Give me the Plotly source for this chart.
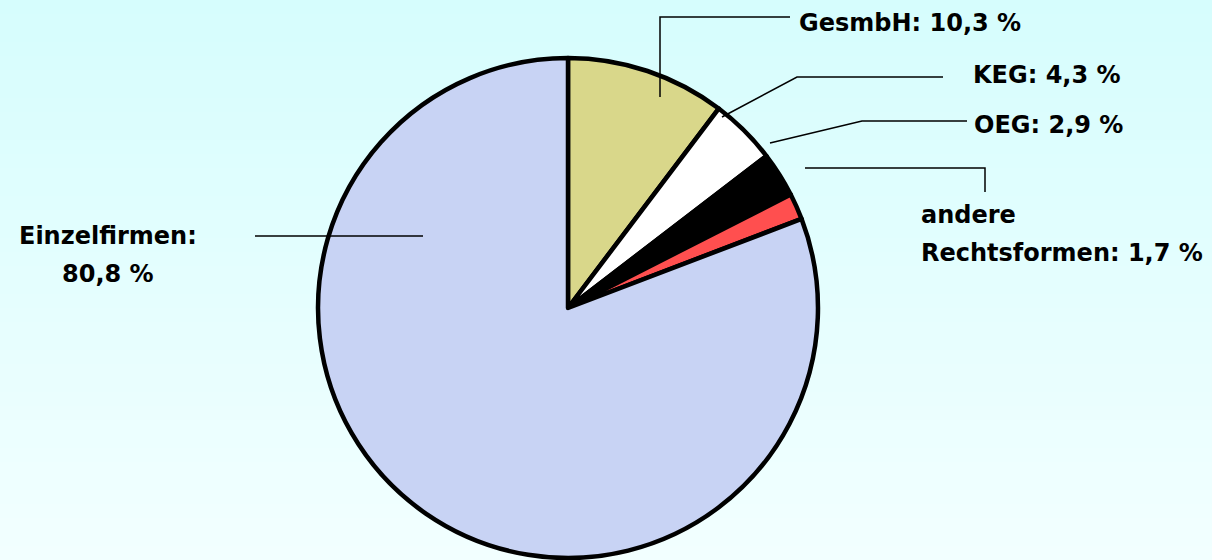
import plotly.graph_objects as go

W, H = 1212, 560

categories = ["GesmbH", "KEG", "OEG", "andere Rechtsformen", "Einzelfirmen"]
shares = [10.3, 4.3, 2.9, 1.7, 80.8]
slice_colors = ["#d9d78a", "#ffffff", "#000000", "#ff4f4f", "#c8d3f4"]


def fmt(v):
    return f"{v:.1f}".replace(".", ",") + " %"


def px(x, y):
    return x / W, 1 - y / H


fig = go.Figure()
fig.add_trace(go.Pie(
    labels=categories,
    values=shares,
    sort=False,
    direction="clockwise",
    rotation=0,
    textinfo="none",
    hoverinfo="label+value",
    marker=dict(colors=slice_colors, line=dict(color="#000000", width=4.5)),
    domain=dict(x=[0.2624, 0.6749], y=[0.0036, 0.8964]),
    showlegend=False,
))

# background gradient
shapes = []
n = 40
top = (214, 253, 253)
bot = (242, 255, 255)
for i in range(n):
    t = i / (n - 1)
    c = tuple(round(top[k] + (bot[k] - top[k]) * t) for k in range(3))
    shapes.append(dict(type="rect", xref="paper", yref="paper",
                       x0=0, x1=1, y0=1 - (i + 1) / n - 0.002, y1=1 - i / n,
                       fillcolor=f"rgb{c}", line=dict(width=0), layer="below"))


def leader(points):
    path = ""
    for j, (x, y) in enumerate(points):
        fx, fy = px(x, y)
        path += ("M" if j == 0 else "L") + f"{fx},{fy} "
    shapes.append(dict(type="path", xref="paper", yref="paper", path=path,
                       line=dict(color="#000000", width=1.5), layer="above"))


leader([(660, 97), (660, 17), (790, 17)])
leader([(722, 117), (797, 77), (943, 77)])
leader([(770, 143), (862, 121), (967, 121)])
leader([(805, 168), (985, 168), (985, 192)])
leader([(255, 236), (423, 236)])

font = dict(family="DejaVu Sans", size=24, color="#000000", weight="bold")
annotations = []


def label(text, x, y, anchor="left"):
    fx, fy = px(x, y)
    annotations.append(dict(text=text, x=fx, y=fy, xref="paper", yref="paper",
                            xanchor=anchor, yanchor="middle", showarrow=False,
                            font=font, align=anchor))


label(f"{categories[0]}: {fmt(shares[0])}", 797, 23)
label(f"{categories[1]}: {fmt(shares[1])}", 971, 75)
label(f"{categories[2]}: {fmt(shares[2])}", 972, 125)
label("andere", 919, 215)
label(f"Rechtsformen: {fmt(shares[3])}", 919, 253)
label(f"{categories[4]}:", 108, 236, "center")
label(fmt(shares[4]), 108, 274, "center")

fig.update_layout(
    width=W, height=H,
    margin=dict(l=0, r=0, t=0, b=0),
    paper_bgcolor="#e4feff",
    plot_bgcolor="#e4feff",
    shapes=shapes,
    annotations=annotations,
)

fig.write_html("out.html", config={"displayModeBar": False},
               post_script="document.body.style.margin='0px';")
